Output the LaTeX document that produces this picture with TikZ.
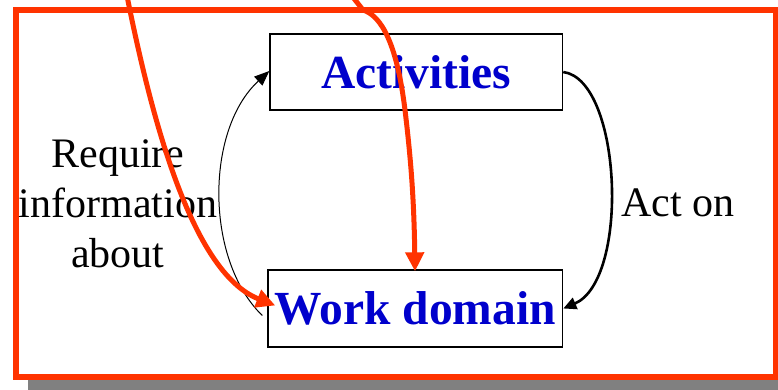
\documentclass[tikz,border=0pt]{standalone}
\usepackage{fontspec}
\setmainfont{Liberation Serif}
\usetikzlibrary{arrows.meta}
\definecolor{frred}{RGB}{255,51,0}
\definecolor{boxblue}{RGB}{0,0,204}
\definecolor{shadowgray}{RGB}{128,128,128}
\tikzset{
  boxnode/.style={draw=black, line width=1.3pt, fill=white, inner sep=0pt,
    text=boxblue, font=\fontsize{47.5}{50}\selectfont\bfseries},
  lbl/.style={inner sep=0pt, align=center, font=\fontsize{42}{50}\selectfont},
  thinarrow/.style={draw=black, line width=1pt, -{Triangle[length=15pt,width=12pt]}},
  thickarrow/.style={draw=black, line width=2.6pt, -{Triangle[length=13pt,width=12pt]}},
  redarrow/.style={draw=frred, line width=5pt, -{Triangle[length=19pt,width=18pt]}}
}
\begin{document}
\begin{tikzpicture}[x=1pt,y=-1pt]
\useasboundingbox (0,0) rectangle (778,389);
\clip (0,0) rectangle (778,389);
% shadow and frame
\fill[shadowgray] (28,22) rectangle (795,395);
\draw[frred, line width=6pt, fill=white] (16,10) rectangle (775.5,377);
% boxes
\node[boxnode, minimum width=292.7pt, minimum height=76pt] (act) at (416.3,72) {Activities};
\node[boxnode, minimum width=294.7pt, minimum height=77pt] (wd) at (415.3,308.5) {Work domain};
% labels
\node[lbl] (req) at (118,204) {Require\\information\\about};
\node[lbl, anchor=west] (acton) at (621,203) {Act on};
% black arrows
\draw[thinarrow] ([xshift=-5pt,yshift=-7pt]wd.west) .. controls (205,260) and (205,130) .. ([yshift=1pt]act.west);
\draw[thickarrow] (act.east) .. controls (622,80) and (630,280) .. (wd.east);
% red arrows
\coordinate (r1) at (127,-4);
\coordinate (r2) at (352,-4);
\coordinate (r2b) at (363,10);
\draw[redarrow] (r1) .. controls (150,110) and (190,272) .. ([xshift=8pt,yshift=3pt]wd.west);
\draw[redarrow] (r2) -- (r2b) .. controls (382,16) and (397,45) .. (405,110)
  .. controls (411,160) and (414,200) .. ([xshift=-0.3pt,yshift=-2pt]wd.north);
\end{tikzpicture}
\end{document}
